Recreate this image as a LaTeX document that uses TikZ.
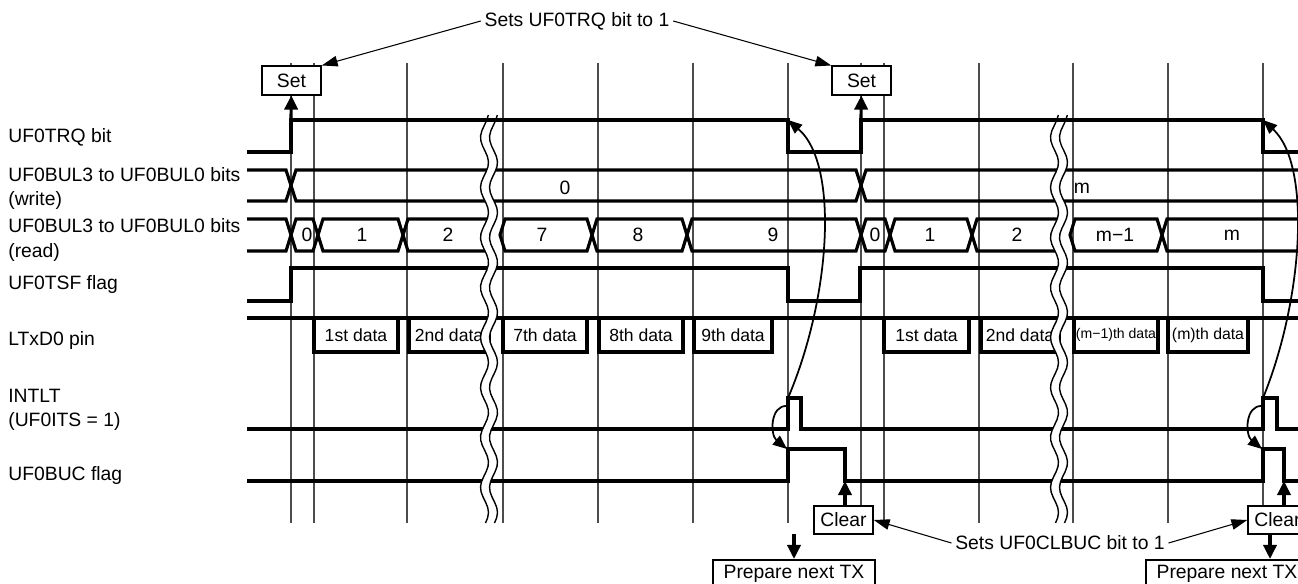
\documentclass[tikz,border=0pt]{standalone}
\usepackage{fontspec}
\setmainfont{Liberation Sans}
\usetikzlibrary{arrows.meta, positioning}

\begin{document}
\begin{tikzpicture}[x=0.02cm, y=-0.02cm, font=\fontsize{11}{13.6}\selectfont,
    sig/.style={line width=1.8pt},
    gridln/.style={black!70, line width=0.75pt},
    lbl/.style={anchor=base west, inner sep=0pt},
    tag/.style={draw, fill=white, line width=0.9pt, inner sep=0pt, minimum height=0.57cm, minimum width=1.18cm},
    datatxt/.style={font=\fontsize{10}{12}\selectfont},
    note/.style={line width=0.6pt, -{Triangle[length=9pt,width=6pt]}},
    push/.style={line width=1.8pt, -{Triangle[length=8pt,width=7.5pt]}},
    curvearr/.style={line width=1pt, -{Triangle[length=8pt,width=6.5pt]}}]

    \useasboundingbox (0,0) rectangle (1298,584);
    \clip (0,0) rectangle (1298,584);

    \foreach \x in {291,314,407,503,598,693,788,861,884,979,1073,1168,1263}
        \draw[gridln] (\x,63) -- (\x,523);

    \node[lbl] (ltrq) at (8,143) {UF0TRQ bit};
    \node[lbl] (lwr) at (8,182) {UF0BUL3 to UF0BUL0 bits};
    \node[lbl] (lwr2) at (8,206) {(write)};
    \node[lbl] (lrd) at (8,233) {UF0BUL3 to UF0BUL0 bits};
    \node[lbl] (lrd2) at (8,257) {(read)};
    \node[lbl] (ltsf) at (8,290) {UF0TSF flag};
    \node[lbl] (ltx) at (8,345) {LTxD0 pin};
    \node[lbl] (lint) at (8,402) {INTLT};
    \node[lbl] (lint2) at (8,426) {(UF0ITS = 1)};
    \node[lbl] (lbuc) at (8,480) {UF0BUC flag};

    % waveforms
    \draw[sig] (247,152) -| (291,120) -| (788,152) -| (861,120) -| (1263,152) -- (1300,152);

    \draw[sig] (247,170) -- (286,170) -- (291,185.5) -- (286,201) -- (247,201);
    \draw[sig] (291,185.5) -- (296,170) -- (856,170) -- (861,185.5) -- (856,201) -- (296,201) -- cycle;
    \draw[sig] (1300,170) -- (866,170) -- (861,185.5) -- (866,201) -- (1300,201);
    \node (wr0) at (565,188) {0};
    \node (wrm) at (1082,188) {m};

    \draw[sig] (247,219) -- (286,219) -- (291,235) -- (286,251) -- (247,251);
    \foreach \a/\b in {291/318, 318/403, 500/592, 592/687, 687/861, 861/890, 890/972, 1070/1162}
        \draw[sig] (\a,235) -- (\a+5,219) -- (\b-5,219) -- (\b,235) -- (\b-5,251) -- (\a+5,251) -- cycle;
    \foreach \a/\b in {403/489, 972/1059, 1162/1300}
        \draw[sig] (\b,219) -- (\a+5,219) -- (\a,235) -- (\a+5,251) -- (\b,251);
    \foreach \x/\v [count=\i] in {307/0, 362/1, 448/2, 542/7, 638/8, 773/9, 875/0, 930/1, 1017/2, 1115/m−1, 1232/m}
        \node (rd\i) at (\x,235) {\v};

    \draw[sig] (247,301) -| (291,268) -| (788,301) -| (860,268) -| (1263,301) -- (1300,301);

    \draw[sig] (247,318) -- (1300,318);
    \foreach \a/\b/\t in {314/398/1st data, 409/489/2nd data, 503/587/7th data, 599/683/8th data, 694/772/9th data, 884/969/1st data, 981/1059/2nd data} {
        \draw[sig] (\a,318) rectangle (\b,352);
        \node[datatxt] (d\a) at ({(\a+\b)/2},335) {\t};
    }
    \draw[sig] (1074,318) rectangle (1158,352);
    \node[font=\fontsize{8}{10}\selectfont] (d1074) at (1116,335) {(m−1)th data};
    \draw[sig] (1168,318) rectangle (1248,352);
    \node[font=\fontsize{9}{11}\selectfont] (d1168) at (1208,335) {(m)th data};

    \draw[sig] (247,429) -- (788,429) |- (801,398) |- (1263,429) |- (1277,398) |- (1300,429);
    \draw[sig] (247,481) -- (788,481) |- (845,449) |- (1263,481) |- (1284,449) |- (1300,481);

    % breaks
    \foreach \c in {489,1059} {
        \fill[white] plot[domain=125:523, samples=70] ({\c-4.5+4*sin(7.2*\x)}, \x)
            -- plot[domain=523:125, samples=70] ({\c+4.5+4*sin(7.2*\x)}, \x) -- cycle;
        \draw[line width=0.8pt] plot[domain=115:523, samples=80] ({\c-4.5+4*sin(7.2*\x)}, \x);
        \draw[line width=0.8pt] plot[domain=115:523, samples=80] ({\c+4.5+4*sin(7.2*\x)}, \x);
    }

    \node[tag] (set1) at (291.5,80.5) {Set};
    \node[tag] (set2) at (861.5,80.5) {Set};
    \node[tag] (clr1) at (843.5,520) {Clear};
    \node[tag] (clr2) at (1277.5,520) {Clear};
    \node[tag, minimum width=3.24cm] (prep1) at (794,574) {Prepare next TX};
    \node[tag, minimum width=3.24cm] (prep2) at (1227,574) {Prepare next TX};
    \node[inner sep=2pt] (setq) at (577,21) {Sets UF0TRQ bit to 1};
    \node[inner sep=2pt] (clrq) at (1060,543) {Sets UF0CLBUC bit to 1};

    \coordinate (up1) at (291,120);
    \coordinate (up2) at (861,120);
    \coordinate (fa1) at (788,120);
    \coordinate (fa2) at (1263,120);
    \coordinate (ip1) at (788,398);
    \coordinate (ip2) at (1263,398);
    \coordinate (is1) at (787,406);
    \coordinate (is2) at (1262,406);
    \coordinate (bu1) at (787,449);
    \coordinate (bu2) at (1262,449);
    \coordinate (bc1) at (845,481);
    \coordinate (bc2) at (1284,481);
    \coordinate (pn1) at (794,534);
    \coordinate (pn2) at (1270,534);

    \draw[note] (setq.west) -- (set1.north east);
    \draw[note] (setq.east) -- (set2.north west);
    \draw[note] (clrq.west) -- (clr1.east);
    \draw[note] (clrq.east) -- (clr2.west);

    \draw[push] (up1) -- (set1);
    \draw[push] (up2) -- (set2);
    \draw[push] (clr1.north -| bc1) -- (bc1);
    \draw[push] (clr2.north -| bc2) -- (bc2);
    \draw[push] (pn1) -- (prep1);
    \draw[push] (pn2) -- (pn2 |- prep2.north);

    \draw[curvearr] (ip1) .. controls (830,300) and (840,165) .. (fa1);
    \draw[curvearr] (ip2) .. controls (1303,300) and (1312,165) .. (fa2);
    \draw[curvearr] (is1) .. controls (770,405) and (770,435) .. (bu1);
    \draw[curvearr] (is2) .. controls (1245,405) and (1245,435) .. (bu2);
\end{tikzpicture}
\end{document}
